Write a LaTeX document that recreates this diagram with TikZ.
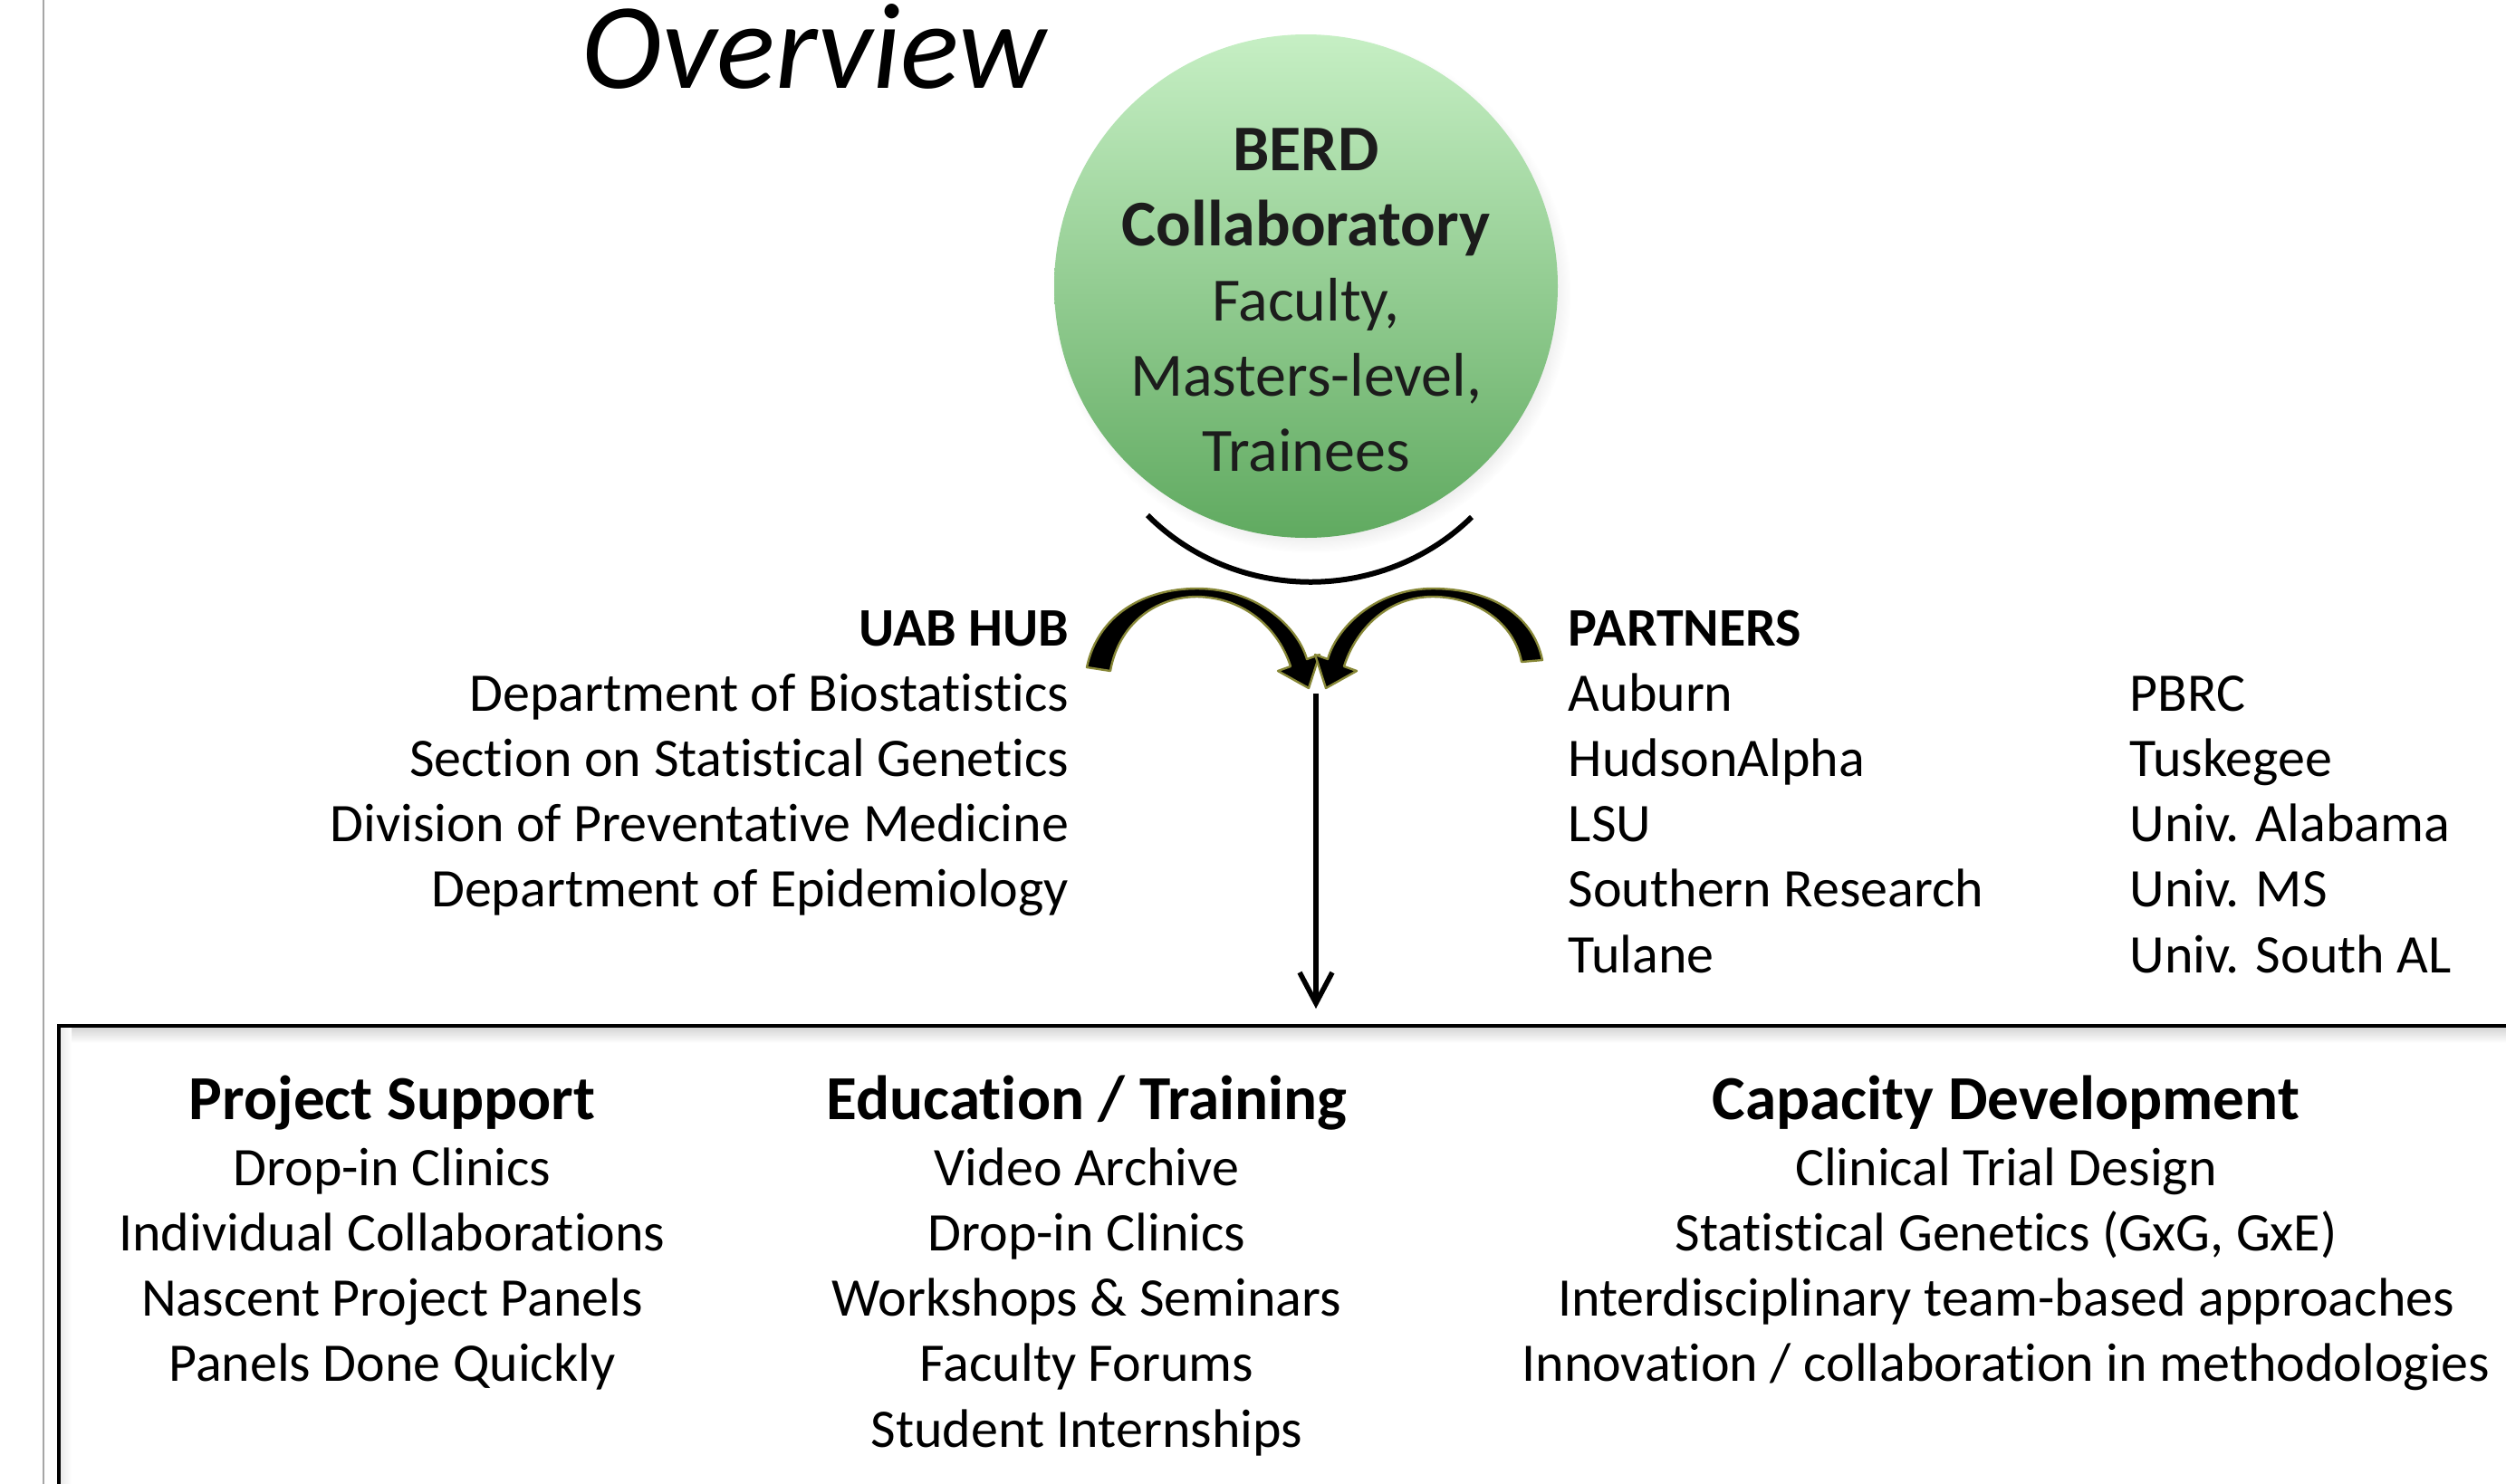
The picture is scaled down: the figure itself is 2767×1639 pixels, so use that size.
\documentclass[tikz,border=0pt]{standalone}
\usepackage{fontspec}
\setmainfont[Ligatures={NoCommon}]{Carlito}
\usetikzlibrary{arrows.meta,shadows}
\definecolor{olivec}{RGB}{135,135,55}
\definecolor{gtop}{RGB}{198,239,196}
\definecolor{gbot}{RGB}{96,170,96}
\definecolor{circtext}{RGB}{28,28,28}
\tikzset{
  body/.style={font=\fontsize{15}{18}\selectfont, inner sep=0pt},
  bodyb/.style={font=\fontsize{15}{18}\selectfont\bfseries, inner sep=0pt},
  head/.style={font=\fontsize{17.3}{21}\selectfont\bfseries, inner sep=0pt},
  thinarc/.style={line width=1.5pt},
  curvarrow/.style={fill=black, draw=olivec, line width=0.6pt, line join=round},
  mainarrow/.style={line width=1.4pt, -{Straight Barb[length=8.5pt,width=9pt]}},
  boxline/.style={line width=1pt},
}
\begin{document}
\begin{tikzpicture}[x=0.25pt,y=-0.25pt]
\useasboundingbox (0,0) rectangle (2767,1639);
\clip (0,0) rectangle (2767,1639);
% page margin line
\draw[black!35, line width=0.5pt] (48,0) -- (48,1639);
% title
\node[font=\fontsize{33.8}{40}\selectfont\itshape, inner sep=0pt, anchor=base] (title) at (899,97) {Overview};
% BERD circle
\node[circle, minimum size=139pt, inner sep=0pt, top color=gtop, bottom color=gbot,
      circular drop shadow={shadow scale=1.03, shadow yshift=-2pt, opacity=0.3}] (berd) at (1442,316) {};
\node[align=center, text=circtext, font=\fontsize{17}{20.75}\selectfont, inner sep=0pt] (berdtext) at (1442,331)
  {{\fontsize{18}{20.75}\selectfont\bfseries BERD}\\{\fontsize{18}{20.75}\selectfont\bfseries Collaboratory}\\Faculty,\\Masters-level,\\Trainees};
% arc below circle
\draw[thinarc] (1267,569) .. controls (1365,667) and (1527,667) .. (1625,571);
% curved arrows
\path[curvarrow] (1200,737) .. controls (1212,680) and (1262,650) .. (1322,650)
  .. controls (1385,650) and (1432,690) .. (1443,728) -- (1457,723) -- (1445,760) -- (1411,741) -- (1425,736)
  .. controls (1412,695) and (1375,660) .. (1322,659)
  .. controls (1275,659) and (1235,690) .. (1226,741) -- cycle;
\path[curvarrow] (1703,729) .. controls (1692,675) and (1640,650) .. (1582,650)
  .. controls (1522,650) and (1477,690) .. (1466,728) -- (1452,723) -- (1464,760) -- (1498,741) -- (1484,736)
  .. controls (1497,695) and (1532,659) .. (1582,659)
  .. controls (1630,659) and (1672,688) .. (1680,731) -- cycle;
% main arrow
\coordinate (merge) at (1453,766);
\coordinate (boxtop) at (1453,1114);
\draw[mainarrow] (merge) -- (boxtop);
% UAB hub
\node[bodyb, anchor=base east] (hub) at (1181,713) {UAB HUB};
\foreach \t [count=\i] in {Department of Biostatistics, Section on Statistical Genetics, Division of Preventative Medicine, Department of Epidemiology}
  \node[body, anchor=base east] (hub\i) at (1181,{785+72.3*(\i-1)}) {\t};
% partners
\node[bodyb, anchor=base west] (partners) at (1731,713) {PARTNERS};
\foreach \t [count=\i] in {Auburn, HudsonAlpha, LSU, Southern Research, Tulane}
  \node[body, anchor=base west] (pa\i) at (1731,{785+72.3*(\i-1)}) {\t};
\foreach \t [count=\i] in {PBRC, Tuskegee, Univ. Alabama, Univ. MS, Univ. South AL}
  \node[body, anchor=base west] (pb\i) at (2351,{785+72.3*(\i-1)}) {\t};
% lower box
\shade[top color=black!16, bottom color=white] (67,1135) rectangle (2767,1152);
\shade[left color=black!8, right color=white] (67,1135) rectangle (79,1639);
\draw[boxline] (65,1660) -- (65,1133) -- (2790,1133);
% columns
\node[head, anchor=base] (ps) at (433,1236) {Project Support};
\foreach \t [count=\i] in {Drop-in Clinics, Individual Collaborations, Nascent Project Panels, Panels Done Quickly}
  \node[body, anchor=base] (ps\i) at (433,{1309+72.3*(\i-1)}) {\t};
\node[head, anchor=base] (et) at (1200,1236) {Education / Training};
\foreach \t [count=\i] in {Video Archive, Drop-in Clinics, Workshops \& Seminars, Faculty Forums, Student Internships}
  \node[body, anchor=base] (et\i) at (1200,{1309+72.3*(\i-1)}) {\t};
\node[head, anchor=base] (cd) at (2215,1236) {Capacity Development};
\foreach \t [count=\i] in {Clinical Trial Design, {Statistical Genetics (GxG, GxE)}, Interdisciplinary team-based approaches, Innovation / collaboration in methodologies}
  \node[body, anchor=base] (cd\i) at (2215,{1309+72.3*(\i-1)}) {\t};
\end{tikzpicture}
\end{document}
